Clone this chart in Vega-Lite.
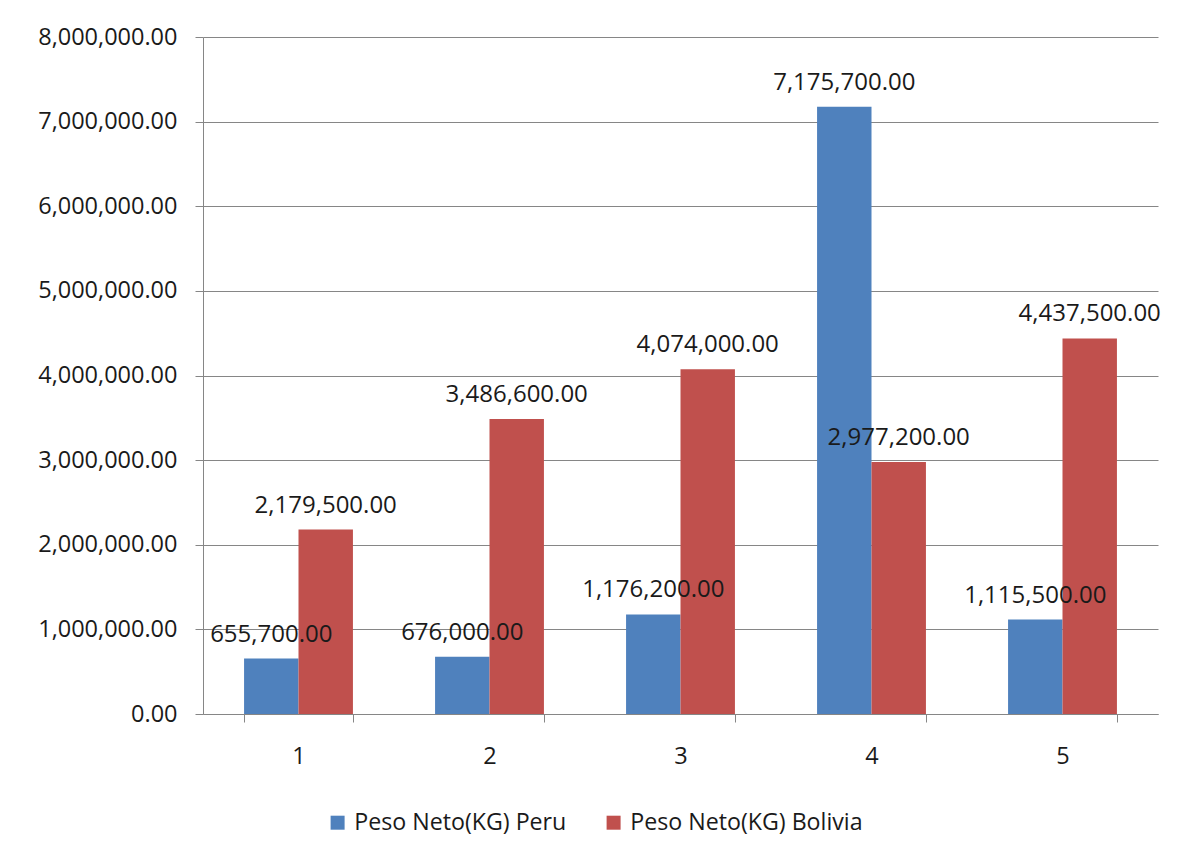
{
  "$schema": "https://vega.github.io/schema/vega-lite/v6.json",
  "width": 955,
  "height": 677,
  "autosize": {"type": "none"},
  "padding": {"left": 203, "top": 37, "right": 24, "bottom": 149},
  "background": "white",
  "config": {
    "font": "Open Sans",
    "view": {"stroke": null},
    "axis": {"labelFont": "Open Sans", "labelFontSize": 23.5, "labelColor": "#1a1a1a", "domainColor": "#868686", "tickColor": "#868686", "gridColor": "#868686", "titleFontSize": 0}
  },
  "data": {
    "values": [
      {"grupo": "1", "serie": "Peso Neto(KG) Peru", "valor": 655700},
      {"grupo": "1", "serie": "Peso Neto(KG) Bolivia", "valor": 2179500},
      {"grupo": "2", "serie": "Peso Neto(KG) Peru", "valor": 676000},
      {"grupo": "2", "serie": "Peso Neto(KG) Bolivia", "valor": 3486600},
      {"grupo": "3", "serie": "Peso Neto(KG) Peru", "valor": 1176200},
      {"grupo": "3", "serie": "Peso Neto(KG) Bolivia", "valor": 4074000},
      {"grupo": "4", "serie": "Peso Neto(KG) Peru", "valor": 7175700},
      {"grupo": "4", "serie": "Peso Neto(KG) Bolivia", "valor": 2977200},
      {"grupo": "5", "serie": "Peso Neto(KG) Peru", "valor": 1115500},
      {"grupo": "5", "serie": "Peso Neto(KG) Bolivia", "valor": 4437500}
    ]
  },
  "encoding": {
    "x": {
      "field": "grupo", "type": "nominal", "title": null,
      "scale": {"paddingInner": 0.43, "paddingOuter": 0.215},
      "axis": {"labelAngle": 0, "tickBand": "extent", "tickSize": 8, "labelPadding": 22, "grid": false}
    },
    "xOffset": {"field": "serie", "type": "nominal", "sort": ["Peso Neto(KG) Peru", "Peso Neto(KG) Bolivia"], "scale": {"paddingInner": 0, "paddingOuter": 0}},
    "y": {
      "field": "valor", "type": "quantitative", "title": null,
      "scale": {"domain": [0, 8000000], "nice": false},
      "axis": {"values": [0, 1000000, 2000000, 3000000, 4000000, 5000000, 6000000, 7000000, 8000000], "format": ",.2f", "tickSize": 8, "labelPadding": 18, "grid": true}
    }
  },
  "layer": [
    {
      "mark": {"type": "bar"},
      "encoding": {
        "color": {
          "field": "serie", "type": "nominal",
          "sort": ["Peso Neto(KG) Peru", "Peso Neto(KG) Bolivia"],
          "scale": {"domain": ["Peso Neto(KG) Peru", "Peso Neto(KG) Bolivia"], "range": ["#4F81BD", "#C0504D"]},
          "legend": {
            "title": null, "orient": "none", "direction": "horizontal",
            "legendX": 123, "legendY": 774,
            "symbolType": "square", "symbolSize": 196, "symbolStrokeWidth": 0,
            "labelFontSize": 23.2, "labelFont": "Open Sans", "labelColor": "#1a1a1a", "labelLimit": 400,
            "columnPadding": 35, "labelOffset": 5
          }
        }
      }
    },
    {
      "mark": {"type": "text", "baseline": "bottom", "dy": -12, "fontSize": 24, "color": "#1a1a1a", "font": "Open Sans"},
      "encoding": {
        "text": {"field": "valor", "type": "quantitative", "format": ",.2f"}
      }
    }
  ]
}
